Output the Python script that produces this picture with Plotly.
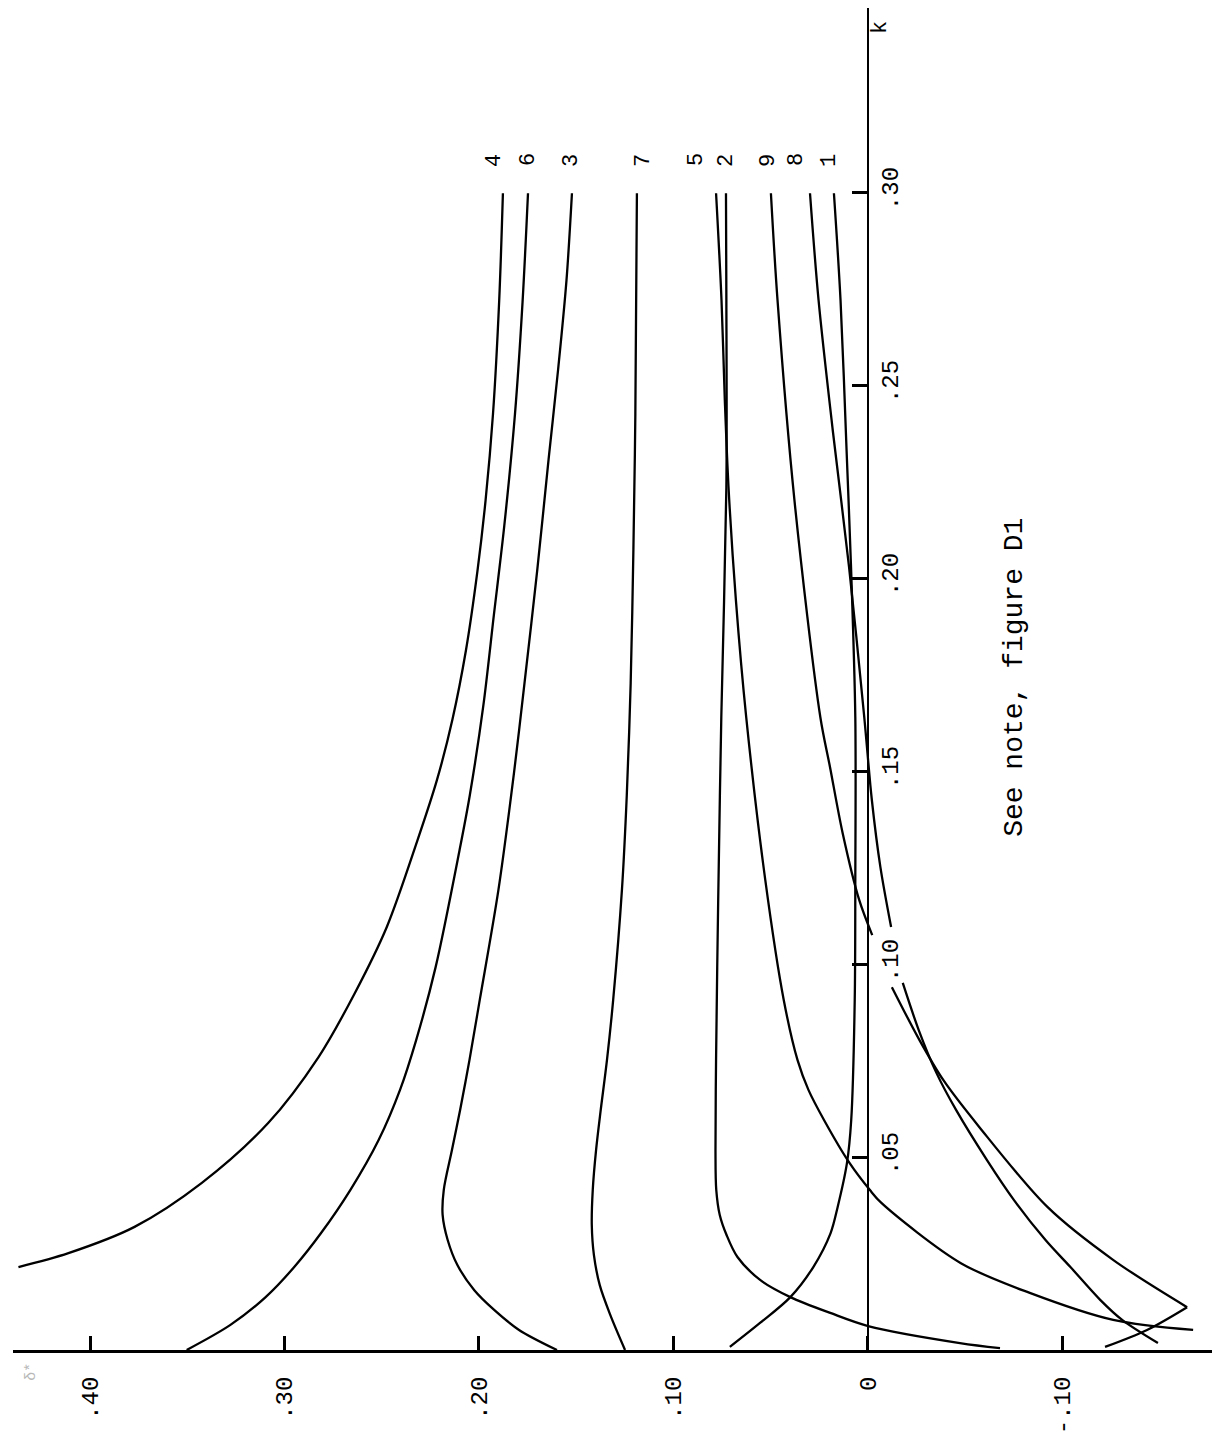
import plotly.graph_objects as go

# ---------------- axes ----------------
v_range = [0.4396, -0.1769]          # horizontal value axis (reversed)
k_range = [0.0, 0.3477]              # vertical k axis
v_ticks = [0.40, 0.30, 0.20, 0.10, 0.0, -0.10]
v_ticktext = [".40", ".30", ".20", ".10", "0", "-.10"]
k_ticks = [0.05, 0.10, 0.15, 0.20, 0.25, 0.30]
k_ticktext = [".05", ".10", ".15", ".20", ".25", ".30"]

# ---------------- curves (k, value) ----------------
k1 = [0.2997, 0.2720, 0.2332, 0.2028, 0.1640, 0.1218, 0.0907, 0.0596, 0.0484, 0.0370, 0.0303, 0.0215, 0.0137, 0.0070, 0.0008]
v1 = [0.0175, 0.0141, 0.0110, 0.0087, 0.0065, 0.0065, 0.0068, 0.0086, 0.0108, 0.0156, 0.0192, 0.0281, 0.0399, 0.0555, 0.0710]

k2 = [0.2997, 0.2720, 0.2236, 0.1640, 0.1166, 0.0751, 0.0518, 0.0415, 0.0350, 0.0298, 0.0241, 0.0181, 0.0137, 0.0096, 0.0062, 0.0018, 0.0005]
v2 = [0.0730, 0.0728, 0.0728, 0.0754, 0.0770, 0.0781, 0.0784, 0.0780, 0.0762, 0.0727, 0.0671, 0.0553, 0.0399, 0.0194, -0.0001, -0.0473, -0.0679]

k3 = [0.2997, 0.2772, 0.2541, 0.2308, 0.2018, 0.1728, 0.1495, 0.1192, 0.0907, 0.0751, 0.0622, 0.0518, 0.0415, 0.0350, 0.0285, 0.0220, 0.0155, 0.0104, 0.0052, 0.0]
v3 = [0.1522, 0.1550, 0.1593, 0.1642, 0.1701, 0.1766, 0.1820, 0.1900, 0.1996, 0.2049, 0.2097, 0.2139, 0.2181, 0.2187, 0.2161, 0.2111, 0.2024, 0.1922, 0.1794, 0.1599]

k4 = [0.2997, 0.2720, 0.2425, 0.2202, 0.2018, 0.1813, 0.1635, 0.1477, 0.1321, 0.1096, 0.0925, 0.0759, 0.0588, 0.0433, 0.0319, 0.0251, 0.0215]
v4 = [0.1877, 0.1896, 0.1928, 0.1966, 0.2008, 0.2067, 0.2136, 0.2216, 0.2316, 0.2474, 0.2638, 0.2825, 0.3084, 0.3425, 0.3771, 0.4111, 0.4368]

k5 = [0.2997, 0.2720, 0.2461, 0.2236, 0.1943, 0.1640, 0.1218, 0.0907, 0.0751, 0.0674, 0.0596, 0.0484, 0.0415, 0.0381, 0.0225, 0.0148, 0.0078, 0.0052]
v5 = [0.0781, 0.0753, 0.0736, 0.0717, 0.0679, 0.0626, 0.0528, 0.0433, 0.0362, 0.0306, 0.0226, 0.0094, -0.0009, -0.0069, -0.0478, -0.0832, -0.1261, -0.1672]

k6 = [0.2997, 0.2715, 0.2425, 0.2135, 0.1902, 0.1668, 0.1438, 0.1295, 0.0992, 0.0803, 0.0674, 0.0544, 0.0415, 0.0303, 0.0215, 0.0137, 0.0065, 0.0]
v6 = [0.1748, 0.1776, 0.1815, 0.1870, 0.1924, 0.1978, 0.2047, 0.2100, 0.2223, 0.2323, 0.2406, 0.2516, 0.2661, 0.2812, 0.2950, 0.3097, 0.3278, 0.3503]

k7 = [0.2997, 0.2425, 0.2075, 0.1728, 0.1438, 0.1192, 0.0907, 0.0751, 0.0622, 0.0518, 0.0415, 0.0324, 0.0246, 0.0168, 0.0091, 0.0]
v7 = [0.1188, 0.1196, 0.1206, 0.1220, 0.1240, 0.1265, 0.1310, 0.1342, 0.1374, 0.1398, 0.1415, 0.1420, 0.1409, 0.1379, 0.1325, 0.1249]

k8 = [0.2997, 0.2720, 0.2383, 0.2028, 0.1640, 0.1425, 0.1251, 0.1096, None, 0.0951, 0.0829, 0.0718, 0.0622, 0.0492, 0.0389, 0.0285, 0.0215, 0.0130, 0.0078, 0.0018]
v8 = [0.0298, 0.0254, 0.0181, 0.0097, 0.0019, -0.0020, -0.0064, -0.0119, None, -0.0179, -0.0261, -0.0352, -0.0453, -0.0612, -0.0750, -0.0913, -0.1041, -0.1194, -0.1307, -0.1491]

k9 = [0.2997, 0.2720, 0.2202, 0.1640, 0.1510, 0.1339, 0.1166, 0.1075, None, 0.0940, 0.0803, 0.0699, 0.0578, 0.0370, 0.0233, 0.0111, 0.0052, 0.0008]
v9 = [0.0499, 0.0465, 0.0378, 0.0245, 0.0195, 0.0130, 0.0045, -0.0022, None, -0.0123, -0.0265, -0.0388, -0.0572, -0.0924, -0.1262, -0.1641, -0.1435, -0.1219]

curve_names = ["1", "2", "3", "4", "5", "6", "7", "8", "9"]
curve_k = [k1, k2, k3, k4, k5, k6, k7, k8, k9]
curve_v = [v1, v2, v3, v4, v5, v6, v7, v8, v9]

# curve label placement (value coordinate of each label, top of chart)
label_v = [0.0201, 0.0730, 0.1527, 0.1923, 0.0884, 0.1748, 0.1157, 0.0370, 0.0514]
label_k = 0.3083

FONT = "Liberation Mono, Courier New, monospace"

fig = go.Figure()


def add_segments(ks, vs):
    # split at gaps (None) and at sharp cusps (direction reversal in value)
    segs = []
    cur_k, cur_v = [], []
    for kk, vv in zip(ks, vs):
        if kk is None:
            if cur_k:
                segs.append((cur_k, cur_v))
            cur_k, cur_v = [], []
            continue
        cur_k.append(kk)
        cur_v.append(vv)
    if cur_k:
        segs.append((cur_k, cur_v))
    out = []
    for sk, sv in segs:
        start = 0
        for i in range(1, len(sv) - 1):
            d1 = sv[i] - sv[i - 1]
            d2 = sv[i + 1] - sv[i]
            if d1 * d2 < 0 and abs(d1) > 0.015 and abs(d2) > 0.015:
                out.append((sk[start:i + 1], sv[start:i + 1]))
                start = i
        out.append((sk[start:], sv[start:]))
    for sk, sv in out:
        fig.add_trace(go.Scatter(
            x=sv, y=sk, mode="lines",
            line=dict(color="black", width=2.3, shape="spline", smoothing=0.9),
            showlegend=False, hoverinfo="skip"))


for ks, vs in zip(curve_k, curve_v):
    add_segments(ks, vs)

# curve number labels
for name, lv in zip(curve_names, label_v):
    fig.add_annotation(x=lv, y=label_k, text=name, showarrow=False,
                       textangle=-90, font=dict(family=FONT, size=22, color="black"))

# axis name "k"
fig.add_annotation(x=-0.0062, y=0.3425, text="k", showarrow=False,
                   textangle=-90, font=dict(family=FONT, size=22, color="black"))

# note
fig.add_annotation(x=-0.0756, y=0.1744, text="See note, figure D1", showarrow=False,
                   textangle=-90, font=dict(family=FONT, size=28, color="black"))

# faint axis symbol
fig.add_annotation(xref="paper", yref="paper", x=0.006, y=-0.0246, text="δ*",
                   showarrow=False, textangle=-90,
                   font=dict(family=FONT, size=15, color="#b8b8b8"))

zero_pos = v_range[0] / (v_range[0] - v_range[1])

fig.update_layout(
    width=1222, height=1425,
    margin=dict(l=5, r=18, t=0, b=83),
    paper_bgcolor="white", plot_bgcolor="white",
    font=dict(family=FONT, color="black"),
    xaxis=dict(
        range=v_range, showgrid=False, zeroline=False,
        showline=True, linecolor="black", linewidth=3,
        ticks="inside", ticklen=14, tickwidth=2.5, tickcolor="black",
        tickvals=v_ticks, ticktext=v_ticktext, tickangle=-90,
        tickfont=dict(family=FONT, size=24, color="black"),
        ticklabelstandoff=14,
    ),
    yaxis=dict(
        range=k_range, showgrid=False, zeroline=False,
        anchor="free", position=zero_pos, side="right",
        showline=True, linecolor="black", linewidth=2,
        ticks="inside", ticklen=15, tickwidth=2.5, tickcolor="black",
        tickvals=k_ticks, ticktext=k_ticktext, tickangle=-90,
        tickfont=dict(family=FONT, size=24, color="black"),
        ticklabelstandoff=0,
    ),
)

fig.write_html("out.html")
